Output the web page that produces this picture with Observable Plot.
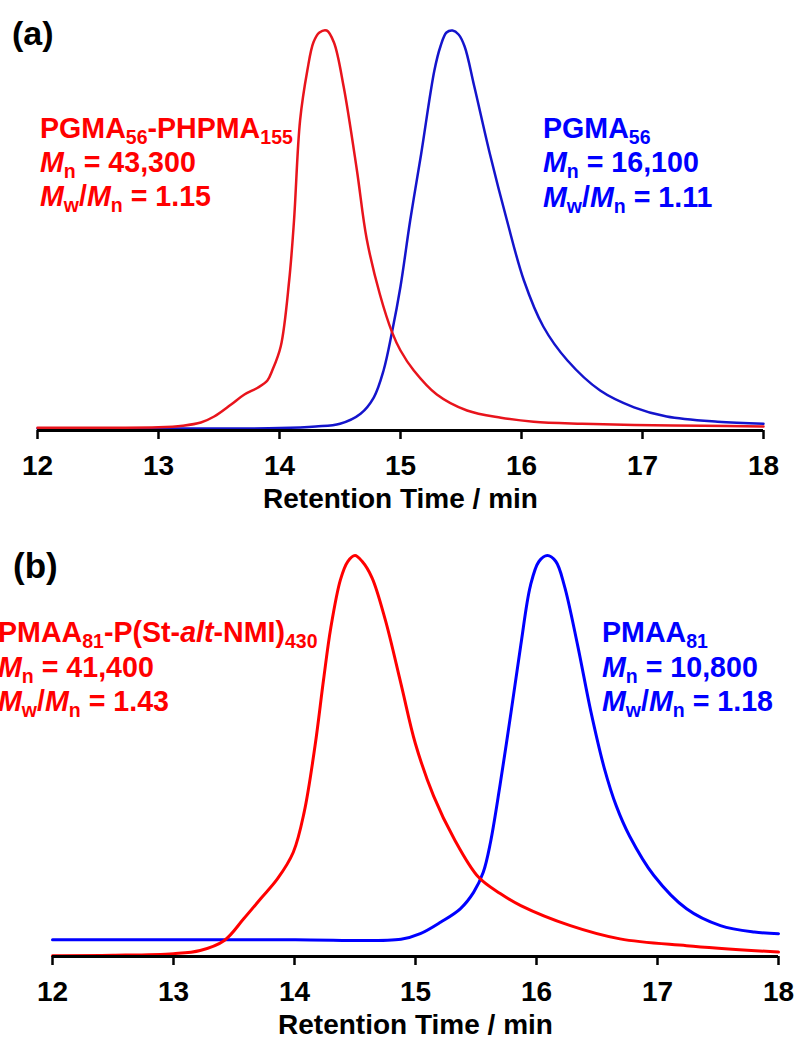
<!DOCTYPE html>
<html><head><meta charset="utf-8">
<script src="https://cdn.jsdelivr.net/npm/d3@7"></script>
<script src="https://cdn.jsdelivr.net/npm/@observablehq/plot@0.6"></script>
<style>
body{margin:0;background:#fff;}
#chart svg{display:block;}
</style></head><body><div id="chart"></div>
<script>
// ---- data ----
const xTicks = [12, 13, 14, 15, 16, 17, 18];
const xLabel = "Retention Time / min";

// Panel (a): PGMA56-PHPMA155 (red) and PGMA56 (blue)
const aRedTime   = [12.0, 12.5, 13.0, 13.2, 13.35, 13.46, 13.6, 13.71, 13.82, 13.9, 13.94, 14.01, 14.08, 14.12, 14.17, 14.23, 14.28, 14.33, 14.39, 14.45, 14.53, 14.64, 14.72, 14.83, 14.93, 15.0, 15.11, 15.3, 15.55, 15.83, 16.1, 16.5, 16.93, 17.5, 18.0];
const aRedSignal = [0.007, 0.007, 0.008, 0.012, 0.02, 0.035, 0.065, 0.09, 0.107, 0.125, 0.15, 0.21, 0.375, 0.525, 0.775, 0.9, 0.97, 0.995, 1.0, 0.97, 0.86, 0.65, 0.48, 0.34, 0.246, 0.2, 0.15, 0.09, 0.05, 0.032, 0.022, 0.017, 0.014, 0.012, 0.01];
const aBlueTime   = [12.0, 13.0, 14.0, 14.3, 14.5, 14.67, 14.78, 14.86, 14.93, 15.0, 15.08, 15.17, 15.28, 15.33, 15.38, 15.43, 15.48, 15.53, 15.61, 15.74, 15.88, 16.02, 16.18, 16.38, 16.65, 16.93, 17.2, 17.62, 18.0];
const aBlueSignal = [0.005, 0.005, 0.006, 0.01, 0.017, 0.042, 0.083, 0.15, 0.246, 0.36, 0.525, 0.69, 0.9, 0.96, 0.995, 1.0, 0.99, 0.96, 0.86, 0.69, 0.525, 0.375, 0.26, 0.175, 0.1, 0.058, 0.035, 0.022, 0.017];

// Panel (b): PMAA81-P(St-alt-NMI)430 (red) and PMAA81 (blue)
const bRedTime   = [12.0, 12.5, 13.0, 13.22, 13.42, 13.58, 13.72, 13.86, 13.99, 14.08, 14.17, 14.24, 14.30, 14.38, 14.44, 14.50, 14.56, 14.64, 14.75, 14.88, 15.0, 15.15, 15.32, 15.52, 15.70, 15.87, 16.28, 16.69, 17.24, 18.0];
const bRedSignal = [0.002, 0.003, 0.007, 0.015, 0.04, 0.094, 0.144, 0.194, 0.26, 0.36, 0.526, 0.69, 0.82, 0.94, 0.985, 1.0, 0.985, 0.945, 0.84, 0.68, 0.53, 0.40, 0.293, 0.198, 0.157, 0.127, 0.077, 0.044, 0.027, 0.011];
const bBlueTime   = [12.0, 13.0, 14.0, 14.88, 15.04, 15.21, 15.37, 15.48, 15.56, 15.62, 15.70, 15.79, 15.87, 15.95, 16.02, 16.09, 16.16, 16.23, 16.34, 16.45, 16.56, 16.66, 16.77, 16.97, 17.24, 17.52, 17.80, 18.0];
const bBlueSignal = [0.042, 0.042, 0.042, 0.043, 0.057, 0.086, 0.119, 0.16, 0.21, 0.285, 0.43, 0.61, 0.776, 0.925, 0.985, 1.0, 0.985, 0.925, 0.776, 0.61, 0.47, 0.375, 0.3, 0.202, 0.119, 0.077, 0.061, 0.057];

// annotation texts
const aRedLabel = [[["PGMA"], ["56", "sub"], ["-PHPMA"], ["155", "sub"]], [["M", "i"], ["n", "sub"], [" = 43,300"]], [["M", "i"], ["w", "sub"], ["/"], ["M", "i"], ["n", "sub"], [" = 1.15"]]];
const aBlueLabel = [[["PGMA"], ["56", "sub"]], [["M", "i"], ["n", "sub"], [" = 16,100"]], [["M", "i"], ["w", "sub"], ["/"], ["M", "i"], ["n", "sub"], [" = 1.11"]]];
const bRedLabel = [[["PMAA"], ["81", "sub"], ["-P(St-"], ["alt", "i"], ["-NMI)"], ["430", "sub"]], [["M", "i"], ["n", "sub"], [" = 41,400"]], [["M", "i"], ["w", "sub"], ["/"], ["M", "i"], ["n", "sub"], [" = 1.43"]]];
const bBlueLabel = [[["PMAA"], ["81", "sub"]], [["M", "i"], ["n", "sub"], [" = 10,800"]], [["M", "i"], ["w", "sub"], ["/"], ["M", "i"], ["n", "sub"], [" = 1.18"]]];

const rows = (t, s) => t.map((x, i) => ({t: x, s: s[i]}));
const FONT = "'Liberation Sans', Arial, Helvetica, sans-serif";

function panel(o) {
  return Plot.plot({
    width: 796, height: o.height,
    marginTop: o.marginTop, marginBottom: o.marginBottom,
    marginLeft: o.marginLeft, marginRight: o.marginRight,
    x: {domain: [12, 18]},
    y: {domain: [0, 1], axis: null},
    style: {fontFamily: FONT, fontSize: "28px", fontWeight: "bold", color: "#000", background: "#fff", overflow: "visible"},
    marks: [
      Plot.line(rows(o.blueT, o.blueS), {x: "t", y: "s", stroke: o.blueColor, strokeWidth: o.sw, curve: "catmull-rom"}),
      Plot.line(rows(o.redT, o.redS), {x: "t", y: "s", stroke: o.redColor, strokeWidth: o.sw, curve: "catmull-rom"}),
      Plot.ruleY([0], {stroke: "#000", strokeWidth: 3}),
      Plot.axisX({ticks: xTicks, tickSize: 9, tickPadding: 16, strokeWidth: 2.5, tickFormat: d => String(d), label: null}),
      Plot.text([xLabel], {frameAnchor: "bottom", dy: o.titleDy, text: d => d, fontSize: 28, fontWeight: "bold"})
    ]
  });
}

function annotate(svg, x, y0, lineGap, lines, color) {
  const g = d3.select(svg).append("g").attr("fill", color).attr("text-anchor", "start")
    .style("font-family", FONT).style("font-weight", "bold").style("font-size", "28.6px");
  let y = y0;
  lines.forEach((segs, li) => {
    y += lineGap[li];
    const t = g.append("text").attr("x", x).attr("y", y).attr("text-anchor", "start").style("white-space", "pre");
    let shifted = false;
    segs.forEach(([txt, kind]) => {
      const sp = t.append("tspan").text(txt);
      if (kind === "sub") {
        sp.attr("font-size", 19.5).attr("dy", shifted ? 0 : 6);
        shifted = true;
      } else {
        if (shifted) { sp.attr("dy", -6); shifted = false; }
        if (kind === "i") sp.attr("font-style", "italic");
      }
    });
  });
}

function tag(svg, x, y, txt, size) {
  d3.select(svg).append("text").attr("x", x).attr("y", y).attr("text-anchor", "start").text(txt)
    .style("font-family", FONT).style("font-weight", "bold").style("font-size", size + "px").attr("fill", "#000");
}

const chart = document.getElementById("chart");

const pa = panel({height: 520, marginTop: 30, marginBottom: 90, marginLeft: 37, marginRight: 33,
  redT: aRedTime, redS: aRedSignal, blueT: aBlueTime, blueS: aBlueSignal,
  redColor: "#e8141c", blueColor: "#1414cc", sw: 2.5, titleDy: 77});
annotate(pa, 40, 138, [0, 34, 34], aRedLabel, "#ff0000");
annotate(pa, 543, 138, [0, 34, 34.5], aBlueLabel, "#0000ff");
tag(pa, 12, 45, "(a)", 34);
chart.appendChild(pa);

const pb = panel({height: 517, marginTop: 35, marginBottom: 81, marginLeft: 52, marginRight: 18,
  redT: bRedTime, redS: bRedSignal, blueT: bBlueTime, blueS: bBlueSignal,
  redColor: "#ff0000", blueColor: "#0000ff", sw: 3, titleDy: 77});
annotate(pb, -2, 122, [0, 35, 34], bRedLabel, "#ff0000");
annotate(pb, 602, 122, [0, 35, 34], bBlueLabel, "#0000ff");
tag(pb, 13, 58, "(b)", 35);
chart.appendChild(pb);
</script></body></html>
